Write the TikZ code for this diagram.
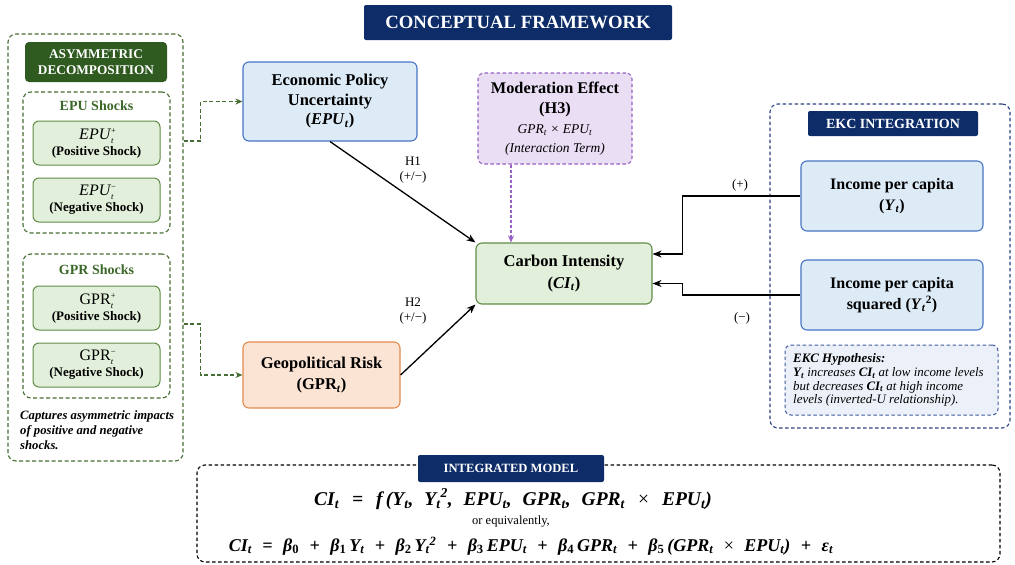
\documentclass[tikz,border=0pt]{standalone}
\usepackage{fontspec}
\setmainfont{Liberation Serif}
\usetikzlibrary{arrows.meta,calc}
\definecolor{navy}{RGB}{14,44,104}
\definecolor{dgreen}{RGB}{47,90,32}
\definecolor{gbd}{RGB}{96,140,72}
\definecolor{gfill}{RGB}{226,239,218}
\definecolor{gtext}{RGB}{60,104,42}
\definecolor{gdash}{RGB}{70,110,50}
\definecolor{bfill}{RGB}{221,235,247}
\definecolor{bbd}{RGB}{70,116,196}
\definecolor{ofill}{RGB}{252,228,212}
\definecolor{obd}{RGB}{228,138,80}
\definecolor{pfill}{RGB}{234,222,244}
\definecolor{pbd}{RGB}{150,96,196}
\definecolor{hfill}{RGB}{236,241,249}
\definecolor{hbd}{RGB}{62,92,160}
\definecolor{ekcbd}{RGB}{44,66,130}
\newcommand{\tsub}{\textsubscript{\textit{t}}}
\newcommand{\mysupsub}[2]{{\fontsize{8.5}{9}\selectfont\rlap{\raisebox{6pt}{#1}}\raisebox{-4pt}{#2}}}
\newcommand{\eop}[2]{\hspace{#2}#1\hspace{#2}}
\tikzset{
  x=1pt, y=-1pt,
  box/.style={draw, rounded corners=6pt, line width=1.1pt, align=center, inner sep=0pt},
  bluebox/.style={box, draw=bbd, fill=bfill, font=\fontsize{16.5}{19.5}\selectfont\bfseries},
  greenbox/.style={box, draw=gbd, fill=gfill, font=\fontsize{16.5}{19.5}\selectfont\bfseries},
  orangebox/.style={box, draw=obd, fill=ofill, font=\fontsize{16.5}{19.5}\selectfont\bfseries},
  shockbox/.style={box, draw=gbd, fill=gfill, line width=1pt, minimum width=127pt, minimum height=44pt, font=\fontsize{13}{19}\selectfont},
  header/.style={rounded corners=2pt, fill=navy, text=white, align=center, inner sep=0pt, font=\bfseries},
  gdashbox/.style={draw=gdash, dash pattern=on 4pt off 2.5pt, line width=1.1pt, rounded corners=8pt},
  garrow/.style={draw=gdash, dash pattern=on 4pt off 2.5pt, line width=1.1pt, -{Stealth[length=7pt,width=6pt]}},
  blackarrow/.style={draw=black, line width=1.3pt, -{Stealth[length=9pt,width=7pt]}},
  lbl/.style={font=\fontsize{13}{15}\selectfont, align=center},
}
\begin{document}
\begin{tikzpicture}
\useasboundingbox (0,0) rectangle (1015,565);
\fill[white] (0,0) rectangle (1015,565);
% title
\node[header, minimum width=308pt, minimum height=35pt, font=\fontsize{18.7}{20}\selectfont\bfseries] (title) at (518,22.5) {CONCEPTUAL FRAMEWORK};
% left panel
\node[gdashbox, minimum width=175pt, minimum height=427pt] (leftouter) at (95.5,247.5) {};
\node[header, fill=dgreen, rounded corners=4pt, minimum width=142pt, minimum height=40pt, font=\fontsize{13.3}{15.5}\selectfont\bfseries] (asym) at (96,62) {ASYMMETRIC\\DECOMPOSITION};
\node[gdashbox, minimum width=147pt, minimum height=141pt] (epushocks) at (96.5,162.5) {};
\node[text=gtext, font=\fontsize{14}{16}\selectfont\bfseries] (epulbl) at (96.5,106) {EPU Shocks};
\node[shockbox] (epup) at (96.5,143) {\textit{\fontsize{16}{18}\selectfont EPU}\mysupsub{+}{\textit{t}}\\[-3pt]\textbf{(Positive Shock)}};
\node[shockbox] (epum) at (96.5,200) {\textit{\fontsize{16}{18}\selectfont EPU}\mysupsub{−}{\textit{t}}\\[-3pt]\textbf{(Negative Shock)}};
\node[gdashbox, minimum width=147pt, minimum height=144pt] (gprshocks) at (96.5,326) {};
\node[text=gtext, font=\fontsize{14}{16}\selectfont\bfseries] (gprlbl) at (96.5,270) {GPR Shocks};
\node[shockbox] (gprp) at (96.5,308) {\textup{\fontsize{16}{18}\selectfont GPR}\mysupsub{+}{\textit{t}}\\[-3pt]\textbf{(Positive Shock)}};
\node[shockbox] (gprm) at (96.5,365) {\textup{\fontsize{16}{18}\selectfont GPR}\mysupsub{−}{\textit{t}}\\[-3pt]\textbf{(Negative Shock)}};
\node[anchor=north west, align=left, inner sep=0pt, font=\fontsize{12.7}{15}\selectfont\bfseries\itshape] (caption) at (20,410) {Captures asymmetric impacts\\of positive and negative\\shocks.};
% central boxes
\node[bluebox, minimum width=174pt, minimum height=79pt] (epu) at (330,101.5) {Economic Policy\\Uncertainty\\(\textit{EPU}\tsub)};
\node[box, draw=pbd, fill=pfill, dash pattern=on 3.5pt off 2.5pt, minimum width=154pt, minimum height=91pt, font=\fontsize{16.3}{19.5}\selectfont\bfseries] (mod) at (555,118.5) {Moderation Effect\\(H3)\\[1pt]\textmd{\textit{\fontsize{13.5}{19.5}\selectfont GPR\tsub{} × EPU\tsub}}\\[-1pt]\textmd{\textit{\fontsize{13.5}{16}\selectfont (Interaction Term)}}};
\node[greenbox, minimum width=176pt, minimum height=61pt] (ci) at (564,273.5) {Carbon Intensity\\[2pt](\textit{CI}\tsub)};
\node[orangebox, minimum width=157pt, minimum height=66pt] (gpr) at (321.5,375) {Geopolitical Risk\\[2pt](GPR\tsub)};
% EKC panel
\node[draw=ekcbd, dash pattern=on 3.5pt off 2.5pt, line width=1.1pt, rounded corners=8pt, minimum width=240pt, minimum height=324pt] (ekcouter) at (890,266) {};
\node[header, minimum width=170pt, minimum height=25pt, font=\fontsize{14}{16}\selectfont\bfseries] (ekchead) at (893,123.5) {EKC INTEGRATION};
\node[bluebox, minimum width=182pt, minimum height=70pt, font=\fontsize{16}{21}\selectfont\bfseries] (inc) at (892,196) {Income per capita\\(\textit{Y}\tsub)};
\node[bluebox, minimum width=182pt, minimum height=70pt, font=\fontsize{16}{21}\selectfont\bfseries] (inc2) at (892,295) {Income per capita\\squared (\textit{Y}\tsub\textsuperscript{2})};
\node[box, draw=hbd, fill=hfill, dash pattern=on 3.5pt off 2.5pt, line width=1pt, minimum width=213pt, minimum height=70pt] (hypbox) at (891.5,380) {};
\node[anchor=west, align=left, inner sep=0pt, font=\fontsize{12.9}{13.8}\selectfont\itshape] (hyp) at (793,380) {\textbf{EKC Hypothesis:}\\\textbf{Y}\textsubscript{\textbf{t}} increases \textbf{CI}\textsubscript{\textbf{t}} at low income levels\\but decreases \textbf{CI}\textsubscript{\textbf{t}} at high income\\levels (inverted-U relationship).};
% connectors
\draw[garrow] ([yshift=106.5pt]leftouter.east) -- ++(17,0) |- (epu.west);
\draw[garrow] ([yshift=-76.5pt]leftouter.east) -- ++(17,0) |- (gpr.west);
\draw[blackarrow] (epu.south) -- (ci.north west);
\draw[blackarrow] (gpr.east) -- (ci.south west);
\draw[draw=pbd, dash pattern=on 3pt off 2pt, line width=1.1pt, -{Stealth[length=7pt,width=6pt]}] ([xshift=-44pt]mod.south) -- ([xshift=-44pt]mod.south |- ci.north);
\draw[blackarrow] (inc.west) -- ++(-118,0) |- ([yshift=19.5pt]ci.east);
\draw[blackarrow] (inc2.west) -- ++(-118,0) |- ([yshift=-10pt]ci.east);
\node[lbl] (h1) at (413,170) {H1\\(+/−)};
\node[lbl] (h2) at (413,311) {H2\\(+/−)};
\node[lbl] (plus) at (740,185) {(+)};
\node[lbl] (minus) at (742,318) {(−)};
% integrated model
\node[draw=black, dash pattern=on 3.5pt off 2.5pt, line width=1.1pt, rounded corners=8pt, minimum width=803pt, minimum height=97pt] (model) at (598.5,513.5) {};
\node[header, minimum width=186pt, minimum height=27pt, font=\fontsize{12.6}{14}\selectfont\bfseries] (modelhead) at (511,468.5) {INTEGRATED MODEL};
\node[font=\fontsize{19.5}{21}\selectfont\bfseries\itshape] (eq1) at (513,499) {CI\tsub\eop{=}{13pt}f\,(Y\tsub,\hspace{6pt} Y\tsub\textsuperscript{2},\hspace{6pt} EPU\tsub,\hspace{6pt} GPR\tsub,\hspace{6pt} GPR\tsub\eop{\textup{\textmd{×}}}{13pt}EPU\tsub)};
\node[font=\fontsize{12.5}{14}\selectfont] (orq) at (511,522) {or equivalently,};
\node[font=\fontsize{18}{20}\selectfont\bfseries\itshape] (eq2) at (531,546) {CI\tsub\eop{=}{10.5pt}β\textsubscript{\textup{0}}\eop{+}{10.5pt}β\textsubscript{\textup{1}}\,Y\tsub\eop{+}{10.5pt}β\textsubscript{\textup{2}}\,Y\tsub\textsuperscript{2}\eop{+}{10.5pt}β\textsubscript{\textup{3}}\,EPU\tsub\eop{+}{10.5pt}β\textsubscript{\textup{4}}\,GPR\tsub\eop{+}{10.5pt}β\textsubscript{\textup{5}}\,(GPR\tsub\eop{\textup{\textmd{×}}}{10.5pt}EPU\tsub)\eop{+}{10.5pt}ε\tsub};
\end{tikzpicture}
\end{document}
